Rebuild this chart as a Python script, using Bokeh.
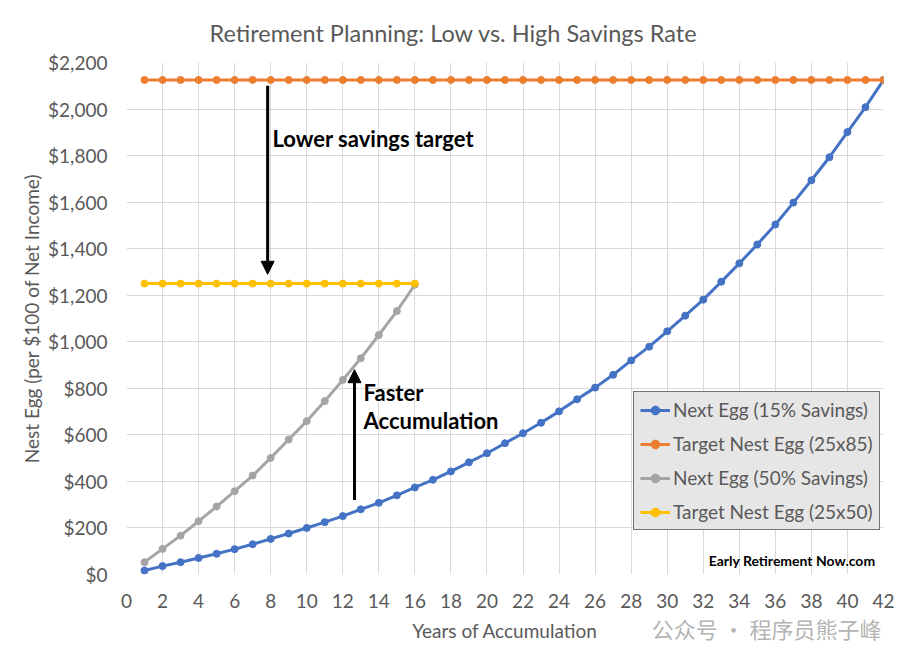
from bokeh.plotting import figure
from bokeh.models import Range1d, NumeralTickFormatter, FixedTicker, Label, Arrow, NormalHead, Title
from bokeh.embed import file_html
from bokeh.resources import INLINE

# ---- data ----
years_15 = list(range(1, 43))
nest_egg_15 = [17, 36, 53, 71, 89, 109, 130, 153, 176, 200, 225, 251, 280, 308, 340, 374,
               407, 443, 482, 521, 564, 607, 652, 701, 753, 803, 858, 920, 979, 1045, 1112,
               1181, 1258, 1337, 1418, 1504, 1598, 1694, 1793, 1901, 2008, 2125]
target_85 = [2125] * 42
years_50 = list(range(1, 17))
nest_egg_50 = [53, 110, 167, 229, 292, 358, 425, 501, 580, 659, 745, 836, 929, 1029, 1132, 1245]
target_50 = [1250] * 16

x_ticks = list(range(0, 43, 2))
y_ticks = list(range(0, 2201, 200))

series_names = ["Next Egg (15% Savings)", "Target Nest Egg (25x85)",
                "Next Egg (50% Savings)", "Target Nest Egg (25x50)"]
colors = ["#4472C4", "#ED7D31", "#A5A5A5", "#FFC000"]

FONT = "Lato"
GREY_TXT = "#595959"

p = figure(width=910, height=660, output_backend="svg", toolbar_location=None,
           x_range=Range1d(0, 42), y_range=Range1d(0, 2200),
           min_border_left=126, min_border_right=27, min_border_top=62, min_border_bottom=86)
p.background_fill_color = "white"
p.border_fill_color = "white"
p.outline_line_color = None

# title
p.title.text = "Retirement Planning: Low vs. High Savings Rate"
p.title.text_font = FONT
p.title.text_font_size = "23.5px"
p.title.text_font_style = "normal"
p.title.text_color = GREY_TXT
p.title.align = "left"
p.title.offset = 83
p.title.standoff = 31

# axes
for ax in (p.xaxis[0], p.yaxis[0]):
    ax.axis_line_color = None
    ax.major_tick_line_color = None
    ax.minor_tick_line_color = None
    ax.major_tick_in = 0
    ax.major_tick_out = 0
    ax.major_label_text_font = FONT
    ax.major_label_text_font_size = "19px"
    ax.major_label_text_color = GREY_TXT
    ax.axis_label_text_font = FONT
    ax.axis_label_text_font_size = "19px"
    ax.axis_label_text_font_style = "normal"
    ax.axis_label_text_color = GREY_TXT

p.xaxis.ticker = FixedTicker(ticks=x_ticks)
p.yaxis.ticker = FixedTicker(ticks=y_ticks)
p.yaxis.formatter = NumeralTickFormatter(format="$0,0")
p.xaxis.axis_label = "Years of Accumulation"
p.yaxis.axis_label = "Nest Egg (per $100 of Net Income)"
p.xaxis.major_label_standoff = 19
p.yaxis.major_label_standoff = 19
p.xaxis.axis_label_standoff = 8
p.yaxis.axis_label_standoff = 2

p.xgrid.ticker = FixedTicker(ticks=x_ticks)
p.ygrid.ticker = FixedTicker(ticks=y_ticks)
for g in (p.xgrid[0], p.ygrid[0]):
    g.grid_line_color = "#D9D9D9"
    g.grid_line_width = 1

# series
xs = [years_15, years_15, years_50, years_50]
ys = [nest_egg_15, target_85, nest_egg_50, target_50]
for x, y, c, name in zip(xs, ys, colors, series_names):
    p.line(x, y, line_color=c, line_width=3, legend_label=name)
    p.scatter(x, y, marker="circle", size=7, fill_color=c, line_color=c, legend_label=name)

# legend
lg = p.legend[0]
lg.location = (507, 44)
lg.background_fill_color = "#E7E6E6"
lg.background_fill_alpha = 1
lg.border_line_color = "black"
lg.border_line_width = 1
lg.label_text_font = FONT
lg.label_text_font_size = "19px"
lg.label_text_color = GREY_TXT
lg.padding = 6
lg.spacing = 11
lg.label_height = 22
lg.glyph_height = 22
lg.glyph_width = 30
lg.label_standoff = 3
lg.margin = 0

# annotations
p.add_layout(Arrow(end=NormalHead(size=13, fill_color="black", line_color="black"),
                   x_start=7.83, y_start=2100, x_end=7.83, y_end=1290,
                   line_color="black", line_width=3))
p.add_layout(Arrow(end=NormalHead(size=13, fill_color="black", line_color="black"),
                   x_start=12.65, y_start=320, x_end=12.65, y_end=880,
                   line_color="black", line_width=3))
for x, y, t in [(8.1, 1873, "Lower savings target"), (13.15, 782, "Faster"),
                (13.15, 661, "Accumulation")]:
    p.add_layout(Label(x=x, y=y, text=t, text_font=FONT, text_font_size="22px",
                       text_font_style="bold", text_color="black", text_baseline="middle"))
p.add_layout(Label(x=32.3, y=62, text="Early Retirement Now.com", text_font=FONT,
                   text_font_size="14px", text_font_style="bold", text_color="black",
                   text_baseline="middle"))

# watermark
wm = Title(text="公众号 · 程序员熊子峰", align="right", vertical_align="top",
           text_font="Noto Sans CJK SC", text_font_size="22px", text_font_style="normal",
           text_color="#B4B4B4", standoff=-66, offset=2)
p.add_layout(wm, "below")

open("out.html", "w").write(file_html(p, INLINE))
